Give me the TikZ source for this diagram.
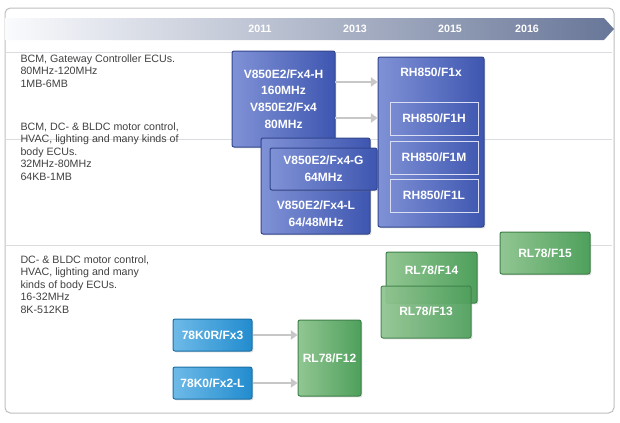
\documentclass[tikz,border=0pt]{standalone}
\usepackage{fontspec}
\setmainfont{Liberation Sans}
\usetikzlibrary{arrows.meta,shadows}
\definecolor{bluel}{RGB}{128,146,214}
\definecolor{bluer}{RGB}{62,86,176}
\definecolor{greenl}{RGB}{146,198,146}
\definecolor{greenr}{RGB}{78,160,92}
\definecolor{cyanl}{RGB}{110,186,232}
\definecolor{cyanr}{RGB}{34,140,206}
\definecolor{barl}{RGB}{250,251,253}
\definecolor{barr}{RGB}{104,118,152}
\definecolor{rule}{RGB}{218,220,224}
\tikzset{every picture/.style={line width=0.75pt}}
\tikzset{
  chip/.style={rectangle, rounded corners=1.5pt, text=white, font=\fontsize{9}{12.5}\selectfont\bfseries, align=center, drop shadow={opacity=0.25, shadow xshift=1pt, shadow yshift=-1pt}},
  bluechip/.style={chip, left color=bluel, right color=bluer, draw=bluer!80!black},
  greenchip/.style={chip, left color=greenl, right color=greenr, draw=greenr!80!black},
  cyanchip/.style={chip, left color=cyanl, right color=cyanr, draw=cyanr!80!black},
  innerchip/.style={rectangle, draw=white!70!bluel, text=white, font=\fontsize{9}{12.5}\selectfont\bfseries},
  segment/.style={font=\fontsize{8}{9.4}\selectfont, text=black!75, align=left, anchor=north west, inner sep=0pt},
  year/.style={text=white, font=\fontsize{8}{9}\selectfont\bfseries},
  upgrade/.style={draw=black!22, line width=2.2pt, -{Triangle[width=7pt,length=5pt]}}
}
\begin{document}
\begin{tikzpicture}[x=0.75pt,y=0.75pt,yscale=-1,xscale=1]
\useasboundingbox (0,0) rectangle (620,422);
%frame
\draw [draw=black!25, rounded corners=4pt] (5,8) rectangle (614,413);
%timeline bar
\shade [left color=barl, right color=barr] (5,18) -- (604,18) -- (614,29) -- (604,40) -- (5,40) -- cycle;
\node [year] (y11) at (260,29) {2011};
\node [year] (y13) at (355,29) {2013};
\node [year] (y15) at (450,29) {2015};
\node [year] (y16) at (527,29) {2016};
%rows
\draw [rule] (5,52) -- (612,52);
\draw [rule] (5,139) -- (612,139);
\draw [rule] (5,245) -- (612,245);
\node [segment] (seg1) at (20,54) {BCM, Gateway Controller ECUs.\\80MHz-120MHz\\1MB-6MB};
\node [segment] (seg2) at (20,122) {BCM, DC- \& BLDC motor control,\\HVAC, lighting and many kinds of\\body ECUs.\\32MHz-80MHz\\64KB-1MB};
\node [segment] (seg3) at (20,255) {DC- \& BLDC motor control,\\HVAC, lighting and many\\kinds of body ECUs.\\16-32MHz\\8K-512KB};

%V850 family
\node [bluechip, minimum width=103*0.75pt, minimum height=96*0.75pt] (fx4h) at (283.5,99) {V850E2/Fx4-H\\160MHz\\V850E2/Fx4\\80MHz};
\node [bluechip, minimum width=109*0.75pt, minimum height=96*0.75pt, text depth=0pt] (fx4back) at (315.5,186) {};
\node [text=white, font=\fontsize{9}{13}\selectfont\bfseries, align=center] (fx4l) at (316,214) {V850E2/Fx4-L\\64/48MHz};
\node [bluechip, minimum width=107*0.75pt, minimum height=42*0.75pt] (fx4g) at (323.5,169) {V850E2/Fx4-G\\64MHz};

%RH850 family
\node [bluechip, minimum width=106*0.75pt, minimum height=170*0.75pt] (rh) at (431,142) {};
\node [text=white, font=\fontsize{9}{12}\selectfont\bfseries] (f1x) at (431,72) {RH850/F1x};
\node [innerchip, minimum width=88*0.75pt, minimum height=33*0.75pt] (f1h) at (434,118.5) {RH850/F1H};
\node [innerchip, minimum width=88*0.75pt, minimum height=33*0.75pt] (f1m) at (434,157.5) {RH850/F1M};
\node [innerchip, minimum width=88*0.75pt, minimum height=33*0.75pt] (f1l) at (434,195.5) {RH850/F1L};
\coordinate (a1) at (335,82);
\coordinate (a2) at (335,118);
\draw [upgrade] (a1) -- (a1 -| rh.west);
\draw [upgrade] (a2) -- (a2 -| rh.west);

%RL78 family
\node [greenchip, minimum width=90*0.75pt, minimum height=42*0.75pt] (f15) at (545,253) {RL78/F15};
\node [greenchip, minimum width=91*0.75pt, minimum height=51*0.75pt, text depth=0pt] (f14) at (431.5,277.5) {};
\node [text=white, font=\fontsize{9}{12}\selectfont\bfseries] (f14t) at (431.5,270) {RL78/F14};
\node [greenchip, minimum width=90*0.75pt, minimum height=52*0.75pt, opacity=0.92] (f13) at (426,312) {};
\node [text=white, font=\fontsize{9}{12}\selectfont\bfseries] (f13t) at (426,311) {RL78/F13};
\node [greenchip, minimum width=63*0.75pt, minimum height=76*0.75pt] (f12) at (329.5,358) {RL78/F12};
\node [cyanchip, minimum width=79*0.75pt, minimum height=32*0.75pt] (k0r) at (212.5,335) {78K0R/Fx3};
\node [cyanchip, minimum width=79*0.75pt, minimum height=32*0.75pt] (k0) at (212.5,383) {78K0/Fx2-L};
\draw [upgrade] (k0r) -- (k0r -| f12.west);
\draw [upgrade] (k0) -- (k0 -| f12.west);
\end{tikzpicture}
\end{document}
